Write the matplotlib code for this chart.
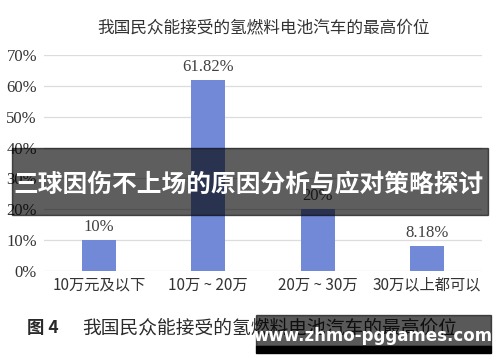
import matplotlib.pyplot as plt
from matplotlib.patches import Rectangle

categories = ['10万元及以下', '10万 ~ 20万', '20万 ~ 30万', '30万以上都可以']
values = [0.10, 0.6182, 0.20, 0.0818]
value_labels = ['10%', '61.82%', '20%', '8.18%']
yticks = [0, 0.1, 0.2, 0.3, 0.4, 0.5, 0.6, 0.7]
ytick_labels = ['0%', '10%', '20%', '30%', '40%', '50%', '60%', '70%']

title = '我国民众能接受的氢燃料电池汽车的最高价位'
caption = '我国民众能接受的氢燃料电池汽车的最高价位'
banner = '三球因伤不上场的原因分析与应对策略探讨'
watermark = 'www.zhmo-pggames.com'

cjk = ['Noto Sans CJK SC', 'DejaVu Sans']
serif = ['Liberation Serif', 'DejaVu Serif']

fig = plt.figure(figsize=(5, 3.62), dpi=100)
ax = fig.add_axes([0.088, 1 - 271 / 362, 0.876, 216 / 362])

x = range(len(categories))
ax.bar(x, values, width=0.31, color='#7189d6', zorder=3)
for xi, v, lab in zip(x, values, value_labels):
    ax.annotate(lab, (xi, v), xytext=(0, 9.5), textcoords='offset points',
                ha='center', va='center', fontsize=12, family=serif, color='#404040')

ax.set_xlim(-0.5, 3.5)
ax.set_ylim(0, 0.7)
ax.set_yticks(yticks)
ax.set_yticklabels(ytick_labels, family=serif, fontsize=12, color='#333333')
ax.set_xticks(list(x))
ax.set_xticklabels(categories, family=cjk, fontsize=11, color='#333333')
ax.tick_params(length=0)
ax.tick_params(axis='y', pad=5)
ax.tick_params(axis='x', pad=4)
ax.grid(axis='y', color='#dcdcdc', linewidth=0.9, zorder=0)
for s in ax.spines.values():
    s.set_visible(False)

fig.text(0.528, 1 - 29 / 362, title, ha='center', va='center',
         fontsize=12, family=cjk, color='#333333')

# caption under the chart
fig.text(27 / 500, 1 - 328 / 362, '图 4', ha='left', va='center',
         fontsize=12.5, family=cjk, weight='bold', color='#2a2a2a')
fig.text(82 / 500, 1 - 328 / 362, caption, ha='left', va='center',
         fontsize=13.5, family=cjk, color='#2a2a2a')

# dark banner over the chart
fig.patches.append(Rectangle((12 / 500, 1 - 215 / 362), 476 / 500, 67 / 362,
                             transform=fig.transFigure, color='black', alpha=0.63, zorder=10))
fig.text(249 / 500, 1 - 185 / 362, banner, ha='center', va='center', fontsize=17.8,
         family=cjk, weight='bold', color='white', zorder=11)

# watermark box
fig.patches.append(Rectangle((256 / 500, 1 - 346 / 362), 235 / 500, 31 / 362,
                             transform=fig.transFigure, color='black', alpha=0.65, zorder=10))
fig.patches.append(Rectangle((256 / 500, 1 - 353 / 362), 235 / 500, 7 / 362,
                             transform=fig.transFigure, color='black', zorder=10))
fig.text(373 / 500, 1 - 336 / 362, watermark, ha='center', va='center', fontsize=12,
         family=['DejaVu Sans'], weight='bold', color='white', zorder=11)

fig.savefig('out.png', dpi=100)
